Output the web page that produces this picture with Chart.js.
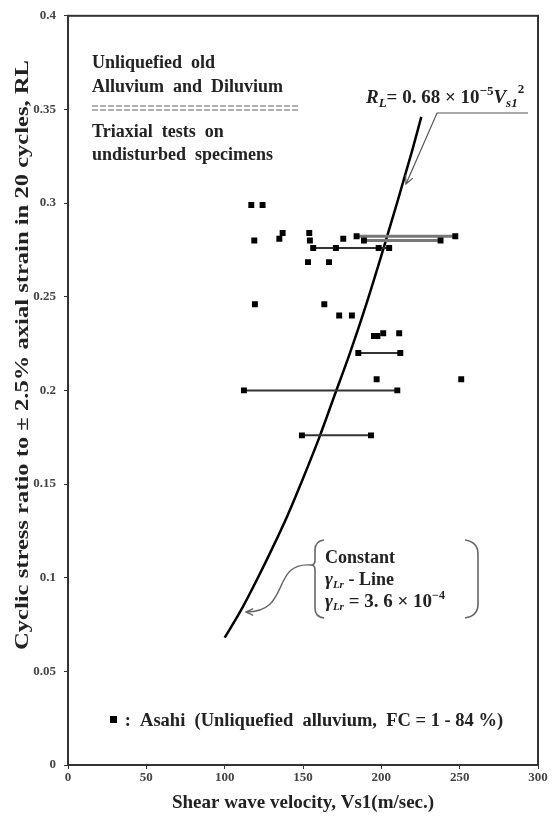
<!DOCTYPE html>
<html>
<head>
<meta charset="utf-8">
<script src="https://cdn.jsdelivr.net/npm/chart.js@4.4.1/dist/chart.umd.min.js"></script>
<style>
  html, body { margin: 0; padding: 0; background: #fff; }
  #wrap { width: 552px; height: 816px; }
</style>
</head>
<body>
<div id="wrap"><canvas id="rlChart"></canvas></div>
<script>
// Asahi triaxial results
const vsPoints = [117, 124.2, 118.9, 134.9, 137, 154, 154.4, 156.5, 171, 175.7, 184.2, 188.9, 198.3, 205, 237.8, 247.2,
  153.2, 166.6, 119.3, 163.6, 173.1, 181.2, 195.3, 197.5, 201.2, 211.4, 185.3, 212.1, 197, 251, 112.3, 210.2, 149.3, 193.4];
const rlPoints = [0.299, 0.299, 0.280, 0.281, 0.284, 0.284, 0.280, 0.276, 0.276, 0.281, 0.2823, 0.280, 0.276, 0.276, 0.280, 0.2823,
  0.2685, 0.2685, 0.246, 0.246, 0.240, 0.240, 0.229, 0.229, 0.2305, 0.2305, 0.220, 0.220, 0.206, 0.206, 0.200, 0.200, 0.176, 0.176];

// horizontal range bars
const rangeFrom = [156.5, 185.3, 112.3, 149.3];
const rangeTo = [205, 212.1, 210.2, 193.4];
const rangeRL = [0.276, 0.220, 0.200, 0.176];

// the grey double bar near 0.28
const bandFrom = [184.2, 188.9];
const bandTo = [247.2, 237.8];
const bandRL = [0.2823, 0.280];

// RL = 0.68e-5 * Vs1^2 curve as drawn
const curveVs = [100, 110, 120, 130, 140, 150, 160, 170, 180, 190, 200, 210, 220, 225.5];
const curveRL = [0.068, 0.082, 0.098, 0.115, 0.133, 0.153, 0.174, 0.197, 0.220, 0.245, 0.272, 0.300, 0.329, 0.346];

const xTicks = [0, 50, 100, 150, 200, 250, 300];
const yTicks = [0, 0.05, 0.1, 0.15, 0.2, 0.25, 0.3, 0.35, 0.4];

const SERIF = '"Liberation Serif", "Times New Roman", serif';
const xy = (xs, ys) => xs.map((x, i) => ({ x: x, y: ys[i] }));

const datasets = [{
  label: 'Asahi',
  data: xy(vsPoints, rlPoints),
  pointStyle: 'rect',
  pointRadius: 4.2,
  backgroundColor: '#000',
  borderColor: '#000',
  borderWidth: 0,
  showLine: false
}];
rangeFrom.forEach((f, i) => {
  datasets.push({
    data: [{ x: f, y: rangeRL[i] }, { x: rangeTo[i], y: rangeRL[i] }],
    showLine: true, pointRadius: 0, borderColor: '#333', borderWidth: 2
  });
});
bandFrom.forEach((f, i) => {
  datasets.push({
    data: [{ x: f, y: bandRL[i] }, { x: bandTo[i], y: bandRL[i] }],
    showLine: true, pointRadius: 0, borderColor: '#777', borderWidth: 3
  });
});
datasets.push({
  data: xy(curveVs, curveRL),
  showLine: true, pointRadius: 0, borderColor: '#000', borderWidth: 2.5,
  cubicInterpolationMode: 'monotone'
});

// draw a row of text pieces (font, vertical shift), returns end x
function runs(ctx, x, y, parts) {
  parts.forEach(p => {
    ctx.font = p[1];
    ctx.fillText(p[0], x, y + (p[2] || 0));
    x += ctx.measureText(p[0]).width;
  });
  return x;
}

function arrowHead(ctx, fx, fy, tx, ty, len) {
  const a = Math.atan2(ty - fy, tx - fx);
  ctx.beginPath();
  ctx.moveTo(tx - len * Math.cos(a - 0.45), ty - len * Math.sin(a - 0.45));
  ctx.lineTo(tx, ty);
  ctx.lineTo(tx - len * Math.cos(a + 0.45), ty - len * Math.sin(a + 0.45));
  ctx.stroke();
}

const annotate = {
  id: 'annotate',
  afterDraw(chart) {
    const ctx = chart.ctx;
    const a = chart.chartArea;
    ctx.save();
    // frame
    ctx.strokeStyle = '#333';
    ctx.lineWidth = 2;
    ctx.strokeRect(a.left, a.top, a.right - a.left, a.bottom - a.top);

    ctx.fillStyle = '#222';
    ctx.textBaseline = 'alphabetic';
    ctx.textAlign = 'left';
    const B = 'bold 18px ' + SERIF;
    ctx.font = B;
    ctx.fillText('Unliquefied  old', 92, 68);
    ctx.fillText('Alluvium  and  Diluvium', 92, 92);
    ctx.fillText('Triaxial  tests  on', 92, 137);
    ctx.fillText('undisturbed  specimens', 92, 160);

    // double dashed rule
    ctx.strokeStyle = '#999';
    ctx.lineWidth = 1.6;
    ctx.setLineDash([6, 2]);
    [106, 110].forEach(y => {
      ctx.beginPath(); ctx.moveTo(92, y); ctx.lineTo(298, y); ctx.stroke();
    });
    ctx.setLineDash([]);

    // equation label
    const IB = s => 'italic bold ' + s + 'px ' + SERIF;
    const BB = s => 'bold ' + s + 'px ' + SERIF;
    let ex = runs(ctx, 366, 103, [['R', IB(19)], ['L', IB(13), 4], ['= 0. 68 × 10', BB(19)], ['−5', BB(13), -8],
      ['V', IB(19)], ['s1', IB(13), 4]]);
    runs(ctx, ex, 103, [['2', BB(13), -10]]);

    // leader with arrow to the curve
    ctx.strokeStyle = '#555';
    ctx.lineWidth = 1.2;
    ctx.beginPath();
    ctx.moveTo(528, 113); ctx.lineTo(437, 113); ctx.lineTo(406, 184);
    ctx.stroke();
    arrowHead(ctx, 437, 113, 406, 184, 9);

    // constant strain line note, braces
    ctx.strokeStyle = '#666';
    ctx.lineWidth = 1.6;
    ctx.beginPath();
    ctx.moveTo(324, 540);
    ctx.quadraticCurveTo(315, 541, 315, 550);
    ctx.lineTo(315, 560);
    ctx.quadraticCurveTo(315, 565, 311, 565);
    ctx.quadraticCurveTo(315, 565, 315, 570);
    ctx.lineTo(315, 608);
    ctx.quadraticCurveTo(315, 617, 324, 618);
    ctx.stroke();
    ctx.beginPath();
    ctx.moveTo(465, 540);
    ctx.quadraticCurveTo(478, 542, 478, 554);
    ctx.lineTo(478, 604);
    ctx.quadraticCurveTo(478, 616, 465, 618);
    ctx.stroke();

    ctx.strokeStyle = '#666';
    ctx.lineWidth = 1.4;
    ctx.beginPath();
    ctx.moveTo(311, 565);
    ctx.bezierCurveTo(270, 562, 292, 612, 246, 612);
    ctx.stroke();
    arrowHead(ctx, 262, 612, 246, 612, 8);

    ctx.fillStyle = '#222';
    runs(ctx, 325, 563, [['Constant', BB(18)]]);
    runs(ctx, 325, 585, [['γ', IB(19)], ['Lr', IB(11), 3], [' - Line', BB(18)]]);
    runs(ctx, 325, 607, [['γ', IB(19)], ['Lr', IB(11), 3], [' = 3. 6 × 10', BB(19)], ['−4', BB(12), -8]]);

    // legend
    ctx.fillStyle = '#000';
    ctx.fillRect(110, 716, 7, 7);
    ctx.fillStyle = '#222';
    runs(ctx, 120, 726, [[' :  Asahi  (Unliquefied  alluvium,  FC = 1 - 84 %)', BB(18.5)]]);

    // y axis title, stretched along its length like the original
    const yt = 'Cyclic stress ratio to ± 2.5% axial strain in 20 cycles, RL';
    ctx.font = BB(18);
    const w = ctx.measureText(yt).width;
    ctx.translate(23, 355);
    ctx.rotate(-Math.PI / 2);
    ctx.scale(590 / w, 1);
    ctx.textAlign = 'center';
    ctx.textBaseline = 'middle';
    ctx.fillText(yt, 0, 0);
    ctx.restore();
  }
};

new Chart(document.getElementById('rlChart'), {
  type: 'scatter',
  data: { datasets: datasets },
  options: {
    responsive: true,
    maintainAspectRatio: false,
    animation: false,
    layout: { padding: { left: 0, top: 15, right: 14, bottom: 0 } },
    plugins: { legend: { display: false }, tooltip: { enabled: false } },
    scales: {
      x: {
        type: 'linear', min: 0, max: 300,
        afterBuildTicks: s => { s.ticks = xTicks.map(v => ({ value: v })); },
        afterFit: s => { s.height = 51; },
        border: { display: false },
        grid: { drawOnChartArea: false, drawTicks: true, tickLength: 4, color: '#333' },
        ticks: { color: '#444', padding: 1, font: { family: SERIF, size: 13, weight: 'bold' } },
        title: {
          display: true, text: 'Shear wave velocity, Vs1(m/sec.)', color: '#222',
          font: { family: SERIF, size: 19, weight: 'bold' }, padding: { top: 0, bottom: 2 }
        }
      },
      y: {
        type: 'linear', min: 0, max: 0.4,
        afterBuildTicks: s => { s.ticks = yTicks.map(v => ({ value: v })); },
        afterFit: s => { s.width = 68; },
        border: { display: false },
        grid: { drawOnChartArea: false, drawTicks: true, tickLength: 4, color: '#333' },
        ticks: {
          color: '#444', padding: 8, font: { family: SERIF, size: 13, weight: 'bold' },
          callback: v => String(parseFloat(v.toFixed(2)))
        }
      }
    }
  },
  plugins: [annotate]
});
</script>
</body>
</html>
